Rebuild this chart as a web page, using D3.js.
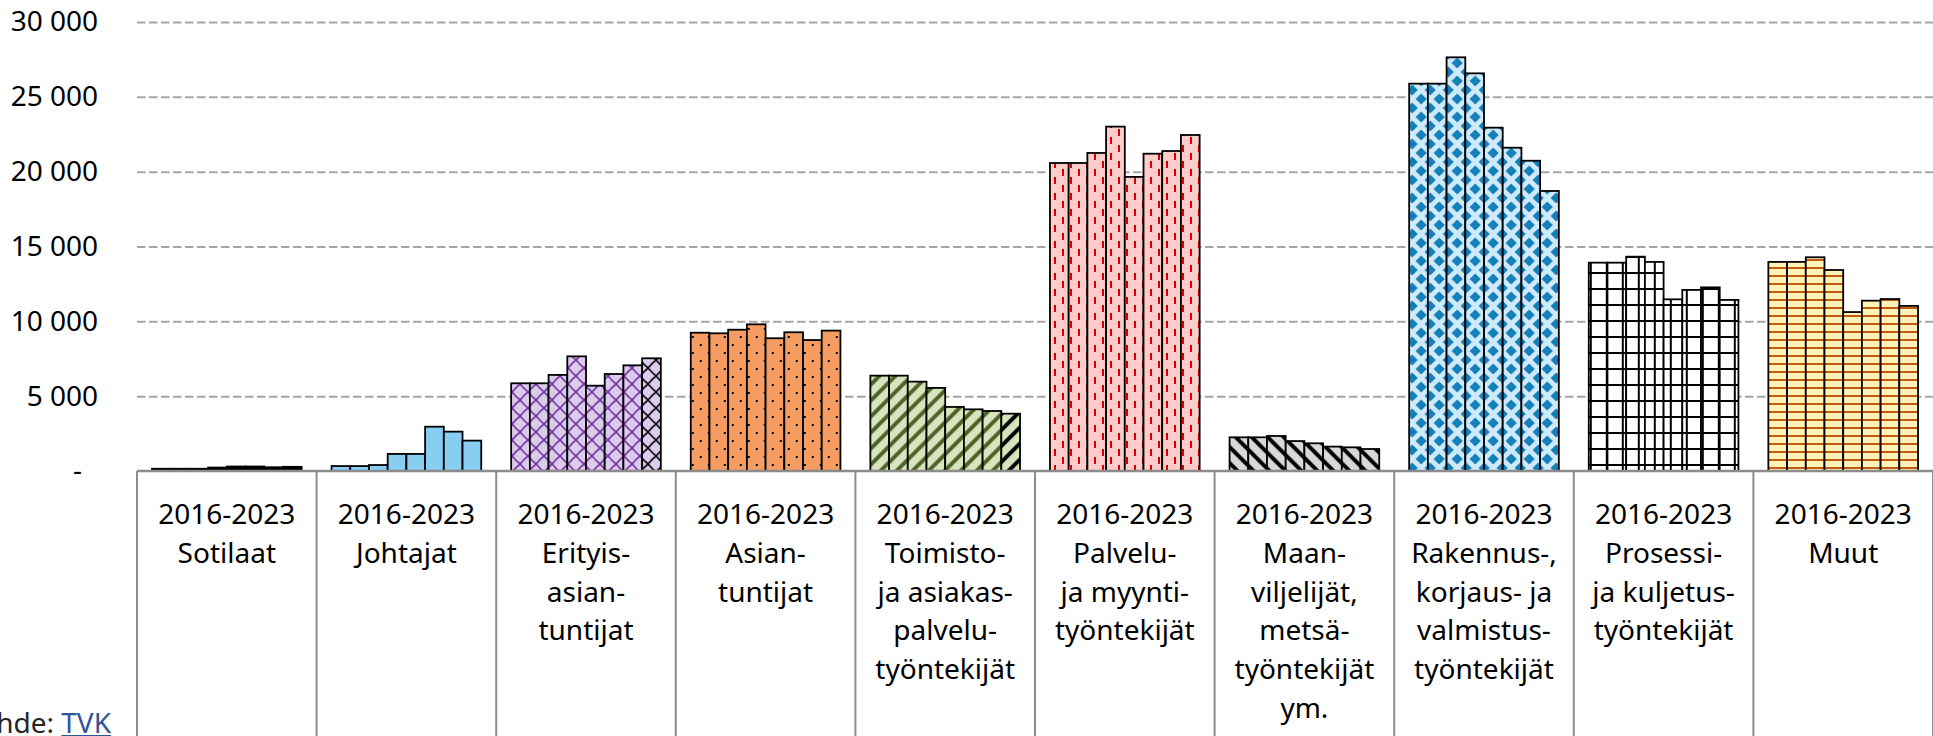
<html>
  <head>
    <script src="https://d3js.org/d3.v7.min.js"></script>
    <style>
      body { margin: 0; background: #ffffff; }
      text { font-family: "Noto Sans", "Open Sans", sans-serif; }
    </style>
  </head>

  <body>
    <div id="vis"></div>
  </body>

  <script>
    // Data
    var years = ["2016", "2017", "2018", "2019", "2020", "2021", "2022", "2023"];
    var categories = ["Sotilaat", "Johtajat", "Erityisasiantuntijat", "Asiantuntijat", "Toimisto",
      "Palvelu", "Maanviljelijat", "Rakennus", "Prosessi", "Muut"];
    var categoryLabels = [
      ["2016-2023", "Sotilaat"],
      ["2016-2023", "Johtajat"],
      ["2016-2023", "Erityis-", "asian-", "tuntijat"],
      ["2016-2023", "Asian-", "tuntijat"],
      ["2016-2023", "Toimisto-", "ja asiakas-", "palvelu-", "työntekijät"],
      ["2016-2023", "Palvelu-", "ja myynti-", "työntekijät"],
      ["2016-2023", "Maan-", "viljelijät,", "metsä-", "työntekijät", "ym."],
      ["2016-2023", "Rakennus-,", "korjaus- ja", "valmistus-", "työntekijät"],
      ["2016-2023", "Prosessi-", "ja kuljetus-", "työntekijät"],
      ["2016-2023", "Muut"]
    ];
    var sotilaat = [150, 150, 150, 230, 300, 300, 250, 280];
    var johtajat = [330, 330, 400, 1140, 1140, 2960, 2630, 2030];
    var erityisasiantuntijat = [5860, 5860, 6420, 7660, 5700, 6480, 7060, 7530];
    var asiantuntijat = [9240, 9200, 9440, 9800, 8870, 9270, 8750, 9380];
    var toimisto = [6370, 6370, 5970, 5550, 4280, 4120, 4010, 3830];
    var palvelu = [20580, 20580, 21250, 23010, 19650, 21200, 21380, 22450];
    var maanviljelijat = [2250, 2250, 2340, 2000, 1850, 1630, 1580, 1470];
    var rakennus = [25880, 25880, 27640, 26570, 22940, 21600, 20730, 18710];
    var prosessi = [13920, 13920, 14320, 13970, 11470, 12100, 12270, 11430];
    var muut = [13970, 13970, 14280, 13430, 10620, 11380, 11490, 11030];
    var seriesValues = [sotilaat, johtajat, erityisasiantuntijat, asiantuntijat, toimisto,
      palvelu, maanviljelijat, rakennus, prosessi, muut];
    var yTicks = [0, 5000, 10000, 15000, 20000, 25000, 30000];

    // Dimensions
    var width = 1933;
    var height = 736;
    var plotLeft = 137;
    var plotTop = 22;
    var axisY = 471;

    var svg = d3
      .select("#vis")
      .append("svg")
      .attr("width", width)
      .attr("height", height);

    var defs = svg.append("defs");

    // Fill patterns
    function pattern(id, size, bg) {
      var p = defs.append("pattern")
        .attr("id", id)
        .attr("patternUnits", "userSpaceOnUse")
        .attr("width", size)
        .attr("height", size);
      p.append("rect").attr("width", size).attr("height", size).attr("fill", bg);
      return p;
    }

    pattern("p0", 16, "#000000");
    pattern("p1", 16, "#88cdf2");

    function lattice(id, color) {
      var p = pattern(id, 16, "#dccbeb");
      p.append("path")
        .attr("d", "M0,8 Q4,3 8,0 M8,16 Q12,11 16,8 M0,8 Q4,13 8,16 M8,0 Q12,5 16,8")
        .attr("fill", "none").attr("stroke", color).attr("stroke-width", 1.6);
    }
    lattice("p2", "#7030a0");
    lattice("p2b", "#000000");

    var p3 = pattern("p3", 16, "#f49c62");
    p3.append("rect").attr("x", 0).attr("y", 0).attr("width", 2).attr("height", 2).attr("fill", "#000");
    p3.append("rect").attr("x", 8).attr("y", 8).attr("width", 2).attr("height", 2).attr("fill", "#000");

    function stripes(id, bg, color, dir) {
      var p = pattern(id, 16, bg);
      var d = dir > 0
        ? "M-4,4 L4,-4 M0,16 L16,0 M12,20 L20,12"
        : "M-4,12 L4,20 M0,0 L16,16 M12,-4 L20,4";
      p.append("path").attr("d", d).attr("stroke", color).attr("stroke-width", 4);
    }
    stripes("p4", "#d8e4bd", "#4f6228", 1);
    stripes("p4b", "#d8e4bd", "#000000", 1);

    var p5 = pattern("p5", 16, "#ffcccc");
    p5.append("rect").attr("x", 3).attr("y", 1).attr("width", 2).attr("height", 7).attr("fill", "#dd0000");
    p5.append("rect").attr("x", 11).attr("y", 9).attr("width", 2).attr("height", 7).attr("fill", "#dd0000");

    stripes("p6", "#d9d9d9", "#000000", -1);

    // diamonds on a checkerboard, tile 18
    var p7 = pattern("p7", 18, "#cfeafa");
    var dia = function (cx, cy, r) {
      return "M" + cx + "," + (cy - r) + " L" + (cx + r) + "," + cy + " L" + cx + "," + (cy + r) +
        " L" + (cx - r) + "," + cy + "Z";
    };
    p7.append("path")
      .attr("d", [dia(0, 0, 5.6), dia(18, 0, 5.6), dia(0, 18, 5.6), dia(18, 18, 5.6), dia(9, 9, 5.6)].join(" "))
      .attr("fill", "#147fb8");

    var p8 = pattern("p8", 16, "#ffffff");
    p8.append("path").attr("d", "M0,1 L16,1 M1,0 L1,16").attr("stroke", "#000").attr("stroke-width", 2);

    var p9 = pattern("p9", 8, "#fff2b8");
    p9.append("rect").attr("x", 0).attr("y", 3).attr("width", 8).attr("height", 2).attr("fill", "#c55a11");

    var patternIds = ["p0", "p1", "p2", "p3", "p4", "p5", "p6", "p7", "p8", "p9"];
    var lastPatternIds = ["p0", "p1", "p2b", "p3", "p4b", "p5", "p6", "p7", "p8", "p9"];

    // Scales
    var x = d3.scaleBand().domain(categories).range([plotLeft, width]).padding(0);
    var xYear = d3.scaleBand().domain(years).range([0, x.bandwidth()])
      .paddingInner(0).paddingOuter(0.8);
    var y = d3.scaleLinear().domain([0, 30000]).range([axisY, plotTop]);

    // Gridlines
    svg.append("g")
      .attr("transform", "translate(" + plotLeft + ",0)")
      .call(d3.axisLeft(y).tickValues(yTicks.slice(1)).tickSize(-(width - plotLeft)).tickFormat(""))
      .call(function (g) { g.select(".domain").remove(); })
      .selectAll("line")
      .attr("stroke", "#a6a6a6")
      .attr("stroke-width", 2)
      .attr("stroke-dasharray", "8.5,3.5");

    // Y axis labels
    var fmt = function (v) {
      return v === 0 ? "-\u2007" : d3.format(",")(v).replace(/,/g, " ");
    };
    svg.append("g")
      .attr("transform", "translate(" + plotLeft + ",0)")
      .call(d3.axisLeft(y).tickValues(yTicks).tickSize(0).tickPadding(39).tickFormat(fmt))
      .call(function (g) { g.select(".domain").remove(); })
      .selectAll("text")
      .style("font-family", "'Noto Sans', sans-serif")
      .style("font-size", "28px")
      .attr("fill", "#000");

    // Bars
    var groups = svg.selectAll(".cat")
      .data(categories)
      .enter()
      .append("g")
      .attr("class", "cat")
      .attr("transform", function (d) { return "translate(" + x(d) + ",0)"; });

    groups.selectAll("rect")
      .data(function (d, i) {
        return years.map(function (yr, j) {
          return { cat: i, year: yr, idx: j, value: seriesValues[i][j] };
        });
      })
      .enter()
      .append("rect")
      .attr("x", function (d) { return xYear(d.year); })
      .attr("y", function (d) { return y(d.value); })
      .attr("width", xYear.bandwidth())
      .attr("height", function (d) { return axisY - y(d.value); })
      .attr("fill", function (d) {
        var id = d.idx === years.length - 1 ? lastPatternIds[d.cat] : patternIds[d.cat];
        return "url(#" + id + ")";
      })
      .attr("stroke", "#000")
      .attr("stroke-width", 1.8);

    // Axis line and category separators
    svg.append("line")
      .attr("x1", plotLeft).attr("x2", width)
      .attr("y1", axisY).attr("y2", axisY)
      .attr("stroke", "#8c8c8c").attr("stroke-width", 2.5);

    svg.selectAll(".sep")
      .data(categories.concat(["end"]))
      .enter()
      .append("line")
      .attr("x1", function (d, i) { return i < categories.length ? x(d) : width; })
      .attr("x2", function (d, i) { return i < categories.length ? x(d) : width; })
      .attr("y1", axisY)
      .attr("y2", height)
      .attr("stroke", "#8c8c8c")
      .attr("stroke-width", 2);

    // Category labels
    groups.append("text")
      .attr("text-anchor", "middle")
      .style("font-size", "28px")
      .attr("fill", "#000")
      .selectAll("tspan")
      .data(function (d, i) { return categoryLabels[i]; })
      .enter()
      .append("tspan")
      .attr("x", x.bandwidth() / 2)
      .attr("y", function (d, i) { return 524 + i * 38.8; })
      .text(function (d) { return d; });

    // Source
    var src = svg.append("text")
      .attr("x", 111)
      .attr("y", 733)
      .attr("text-anchor", "end")
      .style("font-size", "28px");
    src.append("tspan").attr("fill", "#262626").text("Lähde: ");
    src.append("tspan").attr("fill", "#2f5597").style("text-decoration", "underline").text("TVK");
  </script>
</html>
